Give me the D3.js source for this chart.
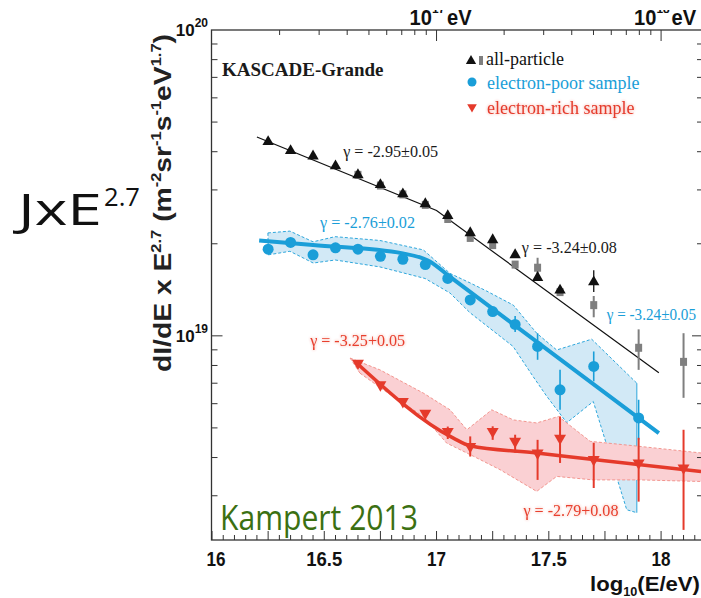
<!DOCTYPE html>
<html>
<head>
<meta charset="utf-8">
<script src="https://cdn.jsdelivr.net/npm/d3@7"></script>
<style>
  body { margin: 0; background: #fff; }
  svg { display: block; }
</style>
</head>
<body>
<div id="container"></div>
<script>
// ---- data (log10(E/eV), flux x E^2.7) ----
// all-particle: black triangles
const allTriE = [16.25, 16.35, 16.45, 16.55, 16.65, 16.75, 16.85, 16.95, 17.05, 17.15, 17.25, 17.35, 17.45, 17.55, 17.7];
const allTriJ = [4.31e19, 4.03e19, 3.87e19, 3.59e19, 3.36e19, 3.12e19, 2.91e19, 2.70e19, 2.47e19, 2.17e19, 2.06e19, 1.84e19, 1.55e19, 1.41e19, 1.50e19];
const allTriHi = [null, null, null, null, null, null, null, null, null, null, null, null, null, null, 1.64e19];
const allTriLo = [null, null, null, null, null, null, null, null, null, null, null, null, null, null, 1.39e19];
// all-particle: grey squares
const graySqE = [16.65, 16.75, 16.85, 16.95, 17.05, 17.15, 17.25, 17.35, 17.45, 17.55, 17.7, 17.9, 18.1];
const graySqJ = [3.36e19, 3.10e19, 2.90e19, 2.68e19, 2.41e19, 2.09e19, 1.98e19, 1.71e19, 1.67e19, 1.39e19, 1.26e19, 9.14e18, 8.22e18];
const graySqHi = [null, null, null, null, null, null, null, null, 1.80e19, null, 1.35e19, 1.05e19, 1.02e19];
const graySqLo = [null, null, null, null, null, null, null, null, 1.58e19, null, 1.15e19, 7.74e18, 6.27e18];
const allFitE = [16.2, 17.0, 17.99];
const allFitJ = [4.47e19, 2.57e19, 7.57e18];

// electron-poor sample
const poorE = [16.25, 16.35, 16.45, 16.55, 16.65, 16.75, 16.85, 16.95, 17.05, 17.15, 17.25, 17.35, 17.45, 17.55, 17.7, 17.9];
const poorJ = [1.92e19, 2.02e19, 1.84e19, 1.94e19, 1.92e19, 1.82e19, 1.78e19, 1.71e19, 1.54e19, 1.31e19, 1.20e19, 1.09e19, 9.23e18, 6.66e18, 7.94e18, 5.39e18];
const poorHi = [null, null, null, null, null, null, null, null, null, null, null, 1.16e19, 1.02e19, 7.74e18, 8.89e18, 6.18e18];
const poorLo = [null, null, null, null, null, null, null, null, null, null, null, 1.03e19, 8.35e18, 5.73e18, 7.10e18, 4.57e18];
const poorBandUpE = [16.249, 16.347, 16.45, 16.548, 16.748, 16.941, 17.06, 17.149, 17.224, 17.342, 17.446, 17.535, 17.691, 17.892];
const poorBandUpJ = [2.17e19, 2.20e19, 2.03e19, 2.11e19, 2.05e19, 1.91e19, 1.60e19, 1.49e19, 1.40e19, 1.26e19, 1.02e19, 8.99e18, 9.75e18, 7.00e18];
const poorBandLoE = [16.251, 16.347, 16.451, 16.549, 16.748, 16.949, 17.06, 17.149, 17.341, 17.43, 17.491, 17.58, 17.698, 17.847, 17.892];
const poorBandLoJ = [1.84e19, 1.89e19, 1.73e19, 1.77e19, 1.68e19, 1.54e19, 1.38e19, 1.19e19, 9.23e18, 7.36e18, 6.34e18, 5.20e18, 6.10e18, 2.70e18, 2.64e18];
const poorFitE = [16.21, 16.45, 16.85, 16.97, 17.05, 17.99];
const poorFitJ = [2.05e19, 1.98e19, 1.86e19, 1.75e19, 1.58e19, 4.81e18];

// electron-rich sample
const richE = [16.65, 16.75, 16.85, 16.95, 17.05, 17.15, 17.25, 17.35, 17.45, 17.55, 17.7, 17.9, 18.1];
const richJ = [8.14e18, 6.92e18, 6.10e18, 5.59e18, 4.87e18, 4.35e18, 4.87e18, 4.52e18, 4.14e18, 4.63e18, 3.94e18, 3.84e18, 3.70e18];
const richHi = [null, null, null, null, 5.05e18, 4.69e18, 5.06e18, 4.75e18, 4.57e18, 5.45e18, 4.47e18, 4.64e18, 4.93e18];
const richLo = [null, null, null, null, 4.60e18, 4.03e18, 4.57e18, 4.15e18, 3.38e18, 3.84e18, 3.18e18, 2.87e18, 2.32e18];
const richBandUpE = [16.615, 16.748, 16.941, 17.06, 17.135, 17.246, 17.342, 17.446, 17.543, 17.684, 17.906, 18.178];
const richBandUpJ = [8.46e18, 7.74e18, 6.50e18, 5.73e18, 4.93e18, 5.73e18, 5.31e18, 5.19e18, 5.45e18, 4.52e18, 4.35e18, 4.14e18];
const richBandLoE = [16.659, 16.763, 16.941, 17.045, 17.164, 17.283, 17.446, 17.535, 17.698, 17.906, 18.178];
const richBandLoJ = [7.55e18, 6.66e18, 5.45e18, 4.46e18, 4.04e18, 3.65e18, 3.10e18, 3.47e18, 3.38e18, 3.38e18, 3.34e18];
const richFitE = [16.637, 17.075, 17.149, 17.446, 17.698, 18.178];
const richFitJ = [8.24e18, 4.63e18, 4.37e18, 4.14e18, 3.94e18, 3.60e18];

// slope annotations: text, log10 E, flux at baseline, colour
const gammaText = ["γ = -2.95±0.05", "γ = -2.76±0.02", "γ = -3.24±0.08", "γ = -3.24±0.05", "γ = -3.25+0.05", "γ = -2.79+0.08"];
const gammaE = [16.584, 16.481, 17.38, 17.758, 16.437, 17.387];
const gammaJ = [3.85e19, 2.25e19, 1.87e19, 1.13e19, 9.23e18, 2.57e18];
const gammaColor = ["#1a1a1a", "#1a9ed8", "#1a1a1a", "#1a9ed8", "#e8402e", "#e8402e"];

const xTickLabels = [16, 16.5, 17, 17.5, 18];
const topTickLabels = [17, 18];

const BLUE = "#1a9ed8", RED = "#e53a2b", GRAY = "#7f7f7f";
const sans = "'Liberation Sans', Arial, sans-serif";
const serif = "'Liberation Serif', 'Times New Roman', serif";

const width = 701, height = 598;
const x = d3.scaleLinear().domain([16, 18.2]).range([212, 706]);
const y = d3.scaleLog().domain([2.15e18, 1e20]).range([540, 30]);

const svg = d3.select("#container").append("svg")
    .attr("width", width).attr("height", height);

const defs = svg.append("defs");
defs.append("clipPath").attr("id", "plot")
  .append("rect").attr("x", 212).attr("y", 30).attr("width", 494).attr("height", 510);
defs.append("clipPath").attr("id", "topcut")
  .append("rect").attr("x", 0).attr("y", 10).attr("width", width).attr("height", height);
const glow = defs.append("filter").attr("id", "glow").attr("x", "-10%").attr("y", "-40%").attr("width", "120%").attr("height", "180%");
glow.append("feGaussianBlur").attr("in", "SourceGraphic").attr("stdDeviation", 1.6).attr("result", "b");
glow.append("feComponentTransfer").attr("in", "b").attr("result", "c")
  .append("feFuncA").attr("type", "linear").attr("slope", 0.45);
const gm = glow.append("feMerge");
gm.append("feMergeNode").attr("in", "c");
gm.append("feMergeNode").attr("in", "SourceGraphic");

const zip = (a, b) => a.map((v, i) => [v, b[i]]);
const line = d3.line().x(d => x(d[0])).y(d => y(d[1]));
const smooth = d3.line().x(d => x(d[0])).y(d => y(d[1])).curve(d3.curveMonotoneX);

const plot = svg.append("g").attr("clip-path", "url(#plot)");

// bands
function band(upE, upJ, loE, loJ, fill, stroke, caps) {
  const up = zip(upE, upJ), lo = zip(loE, loJ);
  plot.append("path")
    .attr("d", line(up.concat(lo.slice().reverse())) + "Z")
    .attr("fill", fill).attr("stroke", "none");
  [up, lo].forEach(pts => plot.append("path")
    .attr("d", line(pts))
    .attr("fill", "none").attr("stroke", stroke)
    .attr("stroke-width", 0.9).attr("stroke-dasharray", "3,2"));
  caps.forEach(k => {
    const a = k ? up[up.length - 1] : up[0], b = k ? lo[lo.length - 1] : lo[0];
    plot.append("line")
      .attr("x1", x(a[0])).attr("y1", y(a[1]))
      .attr("x2", x(b[0])).attr("y2", y(b[1]))
      .attr("stroke", stroke).attr("stroke-width", 0.9)
      .attr("stroke-dasharray", k ? null : "3,2");
  });
}
band(poorBandUpE, poorBandUpJ, poorBandLoE, poorBandLoJ, "#d2e9f6", BLUE, [0, 1]);
band(richBandUpE, richBandUpJ, richBandLoE, richBandLoJ, "#fad0d3", "#f08c84", [0]);

// fit lines
plot.append("path").attr("d", line(zip(allFitE, allFitJ)))
  .attr("fill", "none").attr("stroke", "#111").attr("stroke-width", 1.2);
plot.append("path").attr("d", smooth(zip(poorFitE, poorFitJ)))
  .attr("fill", "none").attr("stroke", BLUE).attr("stroke-width", 4);
plot.append("path").attr("d", smooth(zip(richFitE, richFitJ)))
  .attr("fill", "none").attr("stroke", RED).attr("stroke-width", 3.5);

// error bars
function errors(E, hi, lo, color, w) {
  plot.append("g").selectAll("line")
    .data(E.map((e, i) => ({ e, hi: hi[i], lo: lo[i] })).filter(d => d.hi != null))
    .join("line")
    .attr("x1", d => x(d.e)).attr("x2", d => x(d.e))
    .attr("y1", d => y(d.hi)).attr("y2", d => y(d.lo))
    .attr("stroke", color).attr("stroke-width", w);
}
errors(graySqE, graySqHi, graySqLo, GRAY, 2);
errors(allTriE, allTriHi, allTriLo, "#222", 1.4);
errors(poorE, poorHi, poorLo, BLUE, 1.6);
errors(richE, richHi, richLo, RED, 2);

// markers
plot.append("g").selectAll("rect")
  .data(zip(graySqE, graySqJ)).join("rect")
  .attr("x", d => x(d[0]) - 3.5).attr("y", d => y(d[1]) - 4)
  .attr("width", 7).attr("height", 8).attr("fill", GRAY);
plot.append("g").selectAll("path")
  .data(zip(allTriE, allTriJ)).join("path")
  .attr("d", d3.symbol(d3.symbolTriangle, 56))
  .attr("transform", d => `translate(${x(d[0])},${y(d[1])})`)
  .attr("fill", "#111");
plot.append("g").selectAll("circle")
  .data(zip(poorE, poorJ)).join("circle")
  .attr("cx", d => x(d[0])).attr("cy", d => y(d[1])).attr("r", 5.5)
  .attr("fill", BLUE);
plot.append("g").selectAll("path")
  .data(zip(richE, richJ)).join("path")
  .attr("d", d3.symbol(d3.symbolTriangle, 62))
  .attr("transform", d => `translate(${x(d[0])},${y(d[1])}) rotate(180)`)
  .attr("fill", RED);

// slope labels
svg.append("g").selectAll("text")
  .data(gammaText.map((t, i) => ({ t, e: gammaE[i], j: gammaJ[i], c: gammaColor[i] })))
  .join("text")
  .attr("x", d => x(d.e)).attr("y", d => y(d.j))
  .attr("fill", d => d.c)
  .attr("filter", d => d.c === "#e8402e" ? "url(#glow)" : null)
  .attr("textLength", d => x(d.e) + 95 > 696 ? 696 - x(d.e) : 95)
  .attr("lengthAdjust", "spacingAndGlyphs")
  .style("font", `17px ${serif}`)
  .text(d => d.t);

// ---- axes ----
const axes = svg.append("g").attr("stroke", "#333");
axes.append("rect").attr("x", 211.5).attr("y", 30).attr("width", 494.5).attr("height", 510)
  .attr("fill", "none").attr("stroke-width", 1.3);

// bottom ticks every 0.05
const bTicks = d3.range(0, 45).map(i => 16 + i * 0.05);
axes.append("g").selectAll("line").data(bTicks).join("line")
  .attr("x1", d => x(d)).attr("x2", d => x(d))
  .attr("y1", 540).attr("y2", (d, i) => 540 - (i % 5 === 0 ? 9 : 5))
  .attr("stroke-width", 1);

// top ticks at n x 10^k eV
const eTicks = [];
[16, 17, 18].forEach(k => d3.range(1, 10).forEach(n => {
  const v = k + Math.log10(n);
  if (v > 16 && v < 18.2) eTicks.push({ v, major: n === 1 });
}));
axes.append("g").selectAll("line").data(eTicks).join("line")
  .attr("x1", d => x(d.v)).attr("x2", d => x(d.v))
  .attr("y1", 30).attr("y2", d => 30 + (d.major ? 11 : 5))
  .attr("stroke-width", 1);

// left / right ticks
const jTicks = [];
[18, 19].forEach(k => d3.range(1, 10).forEach(n => {
  const v = n * Math.pow(10, k);
  if (v > 2.15e18 && v < 1e20) jTicks.push({ v, major: n === 1 });
}));
axes.append("g").selectAll("line").data(jTicks).join("line")
  .attr("x1", 211.5).attr("x2", d => 211.5 + (d.major ? 11 : 6))
  .attr("y1", d => y(d.v)).attr("y2", d => y(d.v)).attr("stroke-width", 1);
axes.append("g").selectAll("line").data(jTicks).join("line")
  .attr("x1", 706).attr("x2", d => 706 - (d.major ? 14 : 9))
  .attr("y1", d => y(d.v)).attr("y2", d => y(d.v)).attr("stroke-width", 1);

// tick labels
svg.append("g").selectAll("text").data(xTickLabels).join("text")
  .attr("x", d => x(d) + (d === 16 ? 4 : 0)).attr("y", 566)
  .attr("text-anchor", "middle").attr("fill", "#111")
  .attr("textLength", d => Number.isInteger(d) ? 19 : 36).attr("lengthAdjust", "spacingAndGlyphs")
  .style("font", `bold 21px ${sans}`)
  .text(d => d);

const yLbl = svg.append("g").attr("fill", "#111").style("font", `bold 17px ${sans}`);
[[1e20, "20"], [1e19, "19"]].forEach(([v, s]) => {
  const t = yLbl.append("text").attr("x", 208).attr("y", y(v) + 6).attr("text-anchor", "end");
  t.append("tspan").text("10");
  t.append("tspan").attr("dy", -9).style("font-size", "12px").text(s);
});

// top labels (cut off at the top edge like the source)
const topLbl = svg.append("g").attr("clip-path", "url(#topcut)")
  .attr("fill", "#111").style("font", `bold 22px ${sans}`);
topTickLabels.forEach(k => {
  const t = topLbl.append("text").attr("x", x(k) - 27).attr("y", 25)
    .attr("textLength", 62).attr("lengthAdjust", "spacingAndGlyphs");
  t.append("tspan").text("10");
  t.append("tspan").attr("dy", -12).style("font-size", "13px").text(k);
  t.append("tspan").attr("dy", 12).attr("dx", 2).text("eV");
});

// x axis title
const xt = svg.append("text").attr("x", 700).attr("y", 591).attr("text-anchor", "end")
  .attr("fill", "#111").attr("textLength", 110).attr("lengthAdjust", "spacingAndGlyphs")
  .style("font", `bold 21px ${sans}`);
xt.append("tspan").text("log");
xt.append("tspan").attr("dy", 5).style("font-size", "12px").text("10");
xt.append("tspan").attr("dy", -5).text("(E/eV)");

// y axis title
const yt = svg.append("text")
  .attr("transform", "translate(171,203) rotate(-90)")
  .attr("text-anchor", "middle").attr("fill", "#222")
  .attr("textLength", 338).attr("lengthAdjust", "spacingAndGlyphs")
  .style("font", `bold 24px ${sans}`);
[["dI/dE x E", 0, null], ["2.7", -10, 14], [" (m", 10, null], ["-2", -10, 14], ["sr", 10, null],
 ["-1", -10, 14], ["s", 10, null], ["-1", -10, 14], ["eV", 10, null], ["1.7", -10, 14], [")", 10, null]]
  .forEach(([s, dy, fs]) => {
    const ts = yt.append("tspan").attr("dy", dy).text(s);
    if (fs) ts.style("font-size", fs + "px");
  });

// in-plot titles
svg.append("text").attr("x", 222).attr("y", 76).attr("fill", "#1a1a1a")
  .style("font", `bold 19px ${serif}`).text("KASCADE-Grande");

// legend
const lg = svg.append("g").style("font", `18px ${serif}`);
lg.append("path").attr("d", d3.symbol(d3.symbolTriangle, 46))
  .attr("transform", "translate(471,61)").attr("fill", "#111");
lg.append("rect").attr("x", 479).attr("y", 56).attr("width", 4).attr("height", 9).attr("fill", GRAY);
lg.append("text").attr("x", 486).attr("y", 65).attr("fill", "#111").text("all-particle");
lg.append("circle").attr("cx", 472).attr("cy", 82).attr("r", 4.5).attr("fill", BLUE);
lg.append("text").attr("x", 487).attr("y", 89).attr("fill", BLUE).text("electron-poor sample");
lg.append("path").attr("d", d3.symbol(d3.symbolTriangle, 40))
  .attr("transform", "translate(472,107) rotate(180)").attr("fill", RED);
lg.append("text").attr("x", 487).attr("y", 114).attr("fill", RED)
  .attr("filter", "url(#glow)").text("electron-rich sample");

// overlay annotations
svg.append("text").attr("x", 220).attr("y", 530).attr("fill", "#3b7012")
  .attr("textLength", 198).attr("lengthAdjust", "spacingAndGlyphs")
  .style("font", "35px 'Open Sans', sans-serif").text("Kampert 2013");

svg.append("text").attr("x", 18).attr("y", 225).attr("fill", "#111")
  .attr("textLength", 84).attr("lengthAdjust", "spacingAndGlyphs")
  .style("font", "44px 'Open Sans', sans-serif").text("JxE");
svg.append("text").attr("x", 104).attr("y", 206).attr("fill", "#111")
  .attr("textLength", 36).attr("lengthAdjust", "spacingAndGlyphs")
  .style("font", "26px 'Open Sans', sans-serif").text("2.7");
</script>
</body>
</html>
